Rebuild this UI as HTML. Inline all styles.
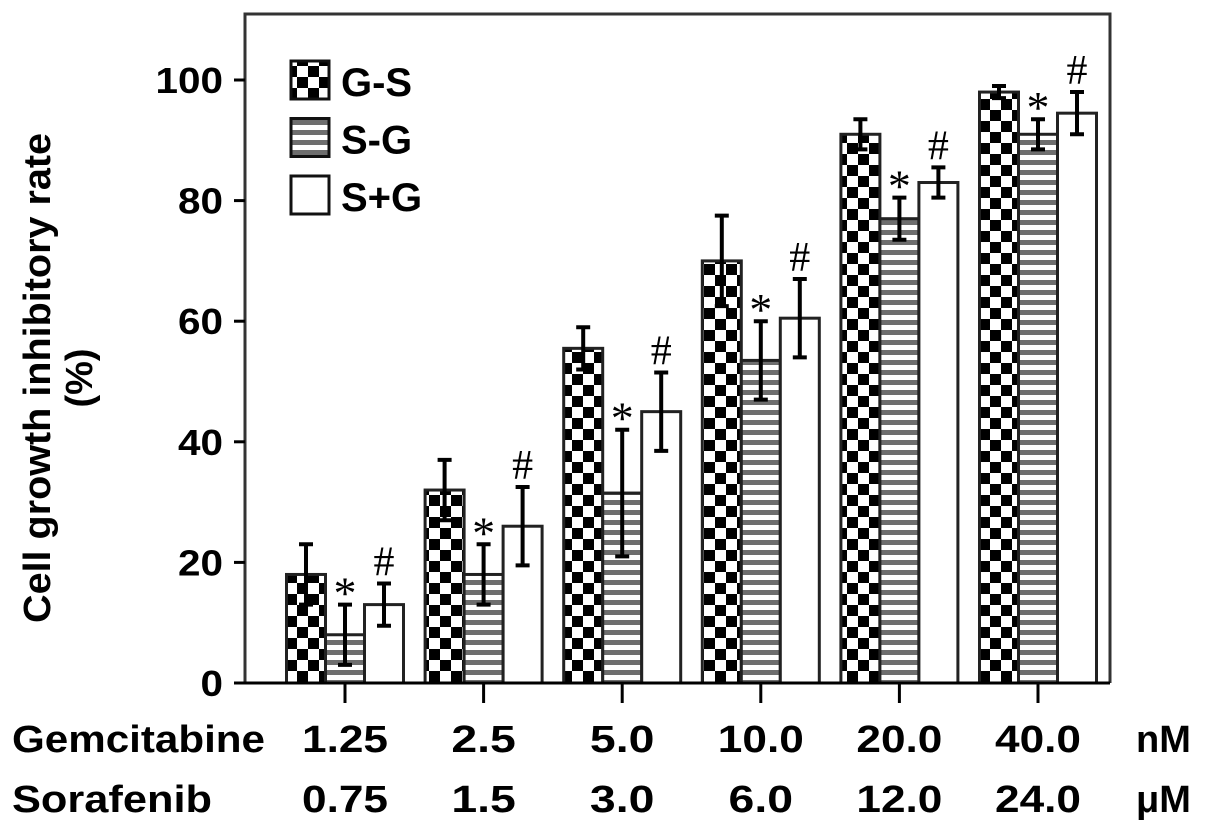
<!DOCTYPE html>
<html><head><meta charset="utf-8"><style>
body{margin:0;background:#fff}
svg{display:block}
text{font-family:"Liberation Sans",Arial,sans-serif;font-weight:bold;fill:#000}
.m{font-family:"Liberation Serif",serif;font-weight:normal}
</style></head><body>
<svg id="chart" width="1205" height="837" viewBox="0 0 1205 837">
<defs>
<pattern id="chk" width="22" height="22" patternUnits="userSpaceOnUse">
<rect width="22" height="22" fill="#fff"/><rect width="11" height="11" fill="#000"/><rect x="11" y="11" width="11" height="11" fill="#000"/>
</pattern>
<pattern id="str" width="10" height="10" patternUnits="userSpaceOnUse">
<rect width="10" height="10" fill="#fff"/><rect y="0" width="10" height="5" fill="#6e6e6e"/>
</pattern>
</defs>
<g id="plot"></g>
</svg>
<script>
const groups = ["1.25|0.75","2.5|1.5","5.0|3.0","10.0|6.0","20.0|12.0","40.0|24.0"];
const gemLabels = ["1.25","2.5","5.0","10.0","20.0","40.0"];
const sorLabels = ["0.75","1.5","3.0","6.0","12.0","24.0"];
const seriesNames = ["G-S","S-G","S+G"];
const gsValues = [18,32,55.5,70,91,98];
const sgValues = [8,18,31.5,53.5,77,91];
const spgValues = [13,26,45,60.5,83,94.5];
const gsErr = [5,5,3.5,7.5,2.5,1];
const sgErr = [5,5,10.5,6.5,3.5,2.5];
const spgErr = [3.5,6.5,6.5,6.5,2.5,3.5];
const yTicks = [0,20,40,60,80,100];

const NS="http://www.w3.org/2000/svg";
const g=document.getElementById('plot');
const L=245,R=1110,T=14,B=683,x0=345,dx=138.6,bw=39;
const y=v=>B-v*6.03;
const xg=i=>x0+i*dx;
function mk(tag,attrs,txt){const e=document.createElementNS(NS,tag);for(const k in attrs)e.setAttribute(k,attrs[k]);if(txt!=null)e.textContent=txt;g.appendChild(e);return e;}

const frame=mk('path',{d:`M${L},${B}V${T}H${R}V${B}`,fill:'none',stroke:'#333',"stroke-width":3});



yTicks.forEach(t=>{
  const tk=mk('line',{x1:234,x2:L,y1:y(t),y2:y(t),stroke:'#000',"stroke-width":3});
  
  
  const s=String(t);
  const lb=mk('text',{x:223,y:y(t)+13,"text-anchor":"end","font-size":36,textLength:s.length*22.5,lengthAdjust:"spacingAndGlyphs"},s);
  
  
});

const series=[[gsValues,gsErr,'url(#chk)'],[sgValues,sgErr,'url(#str)'],[spgValues,spgErr,'#fff']];
groups.forEach((gr,i)=>{
  series.forEach((s,j)=>{
    const v=s[0][i],e=s[1][i],cx=xg(i)+(j-1)*bw;
    const r=mk('rect',{x:cx-bw/2,y:y(v),width:bw,height:B-y(v),fill:s[2],stroke:'#222',"stroke-width":3});
    
    
    const eb=mk('path',{d:`M${cx},${y(v-e)}V${y(v+e)}M${cx-7},${y(v+e)}H${cx+7}M${cx-7},${y(v-e)}H${cx+7}`,stroke:'#000',"stroke-width":4,fill:'none'});
    
    
    if(j>0){
      const m=mk('text',{x:cx,y:y(v+e)-(j==1?-4:8),"text-anchor":"middle","font-size":j==1?46:42,class:'m'},j==1?'*':'#');
      
      
    }
  });
  const xt=mk('line',{x1:xg(i),x2:xg(i),y1:B,y2:B+20,stroke:'#000',"stroke-width":3});
  
  
  const a=mk('text',{x:xg(i),y:752,"text-anchor":"middle","font-size":38,textLength:gemLabels[i].length*21.5,lengthAdjust:"spacingAndGlyphs"},gemLabels[i]);
  
  
  const b=mk('text',{x:xg(i),y:812,"text-anchor":"middle","font-size":38,textLength:sorLabels[i].length*21.5,lengthAdjust:"spacingAndGlyphs"},sorLabels[i]);
  
  
});
const ax=mk('line',{x1:L,x2:R,y1:B,y2:B,stroke:'#000',"stroke-width":3});



[['Gemcitabine',12,752,253],['Sorafenib',12,812,200]].forEach(d=>{
  const t=mk('text',{x:d[1],y:d[2],"font-size":38,textLength:d[3],lengthAdjust:"spacingAndGlyphs"},d[0]);
  
  
});
[['nM',752],['μM',812]].forEach(d=>{
  const t=mk('text',{x:1136,y:d[1],"font-size":38},d[0]);
  
  
});

const yt=mk('text',{transform:'translate(50,378) rotate(-90)',"text-anchor":"middle","font-size":38,textLength:490,lengthAdjust:"spacingAndGlyphs"},'Cell growth inhibitory rate');


const yt2=mk('text',{transform:'translate(92,378) rotate(-90)',"text-anchor":"middle","font-size":38},'(%)');



const fills=['url(#chk)','url(#str)','#fff'];
seriesNames.forEach((n,j)=>{
  const yy=61+j*57.5;
  const p=mk('rect',{x:291,y:yy,width:38,height:38,fill:fills[j],stroke:'#111',"stroke-width":3});
  
  
  const t=mk('text',{x:341,y:yy+35,"font-size":40},n);
  
  
});
</script>
</body></html>
